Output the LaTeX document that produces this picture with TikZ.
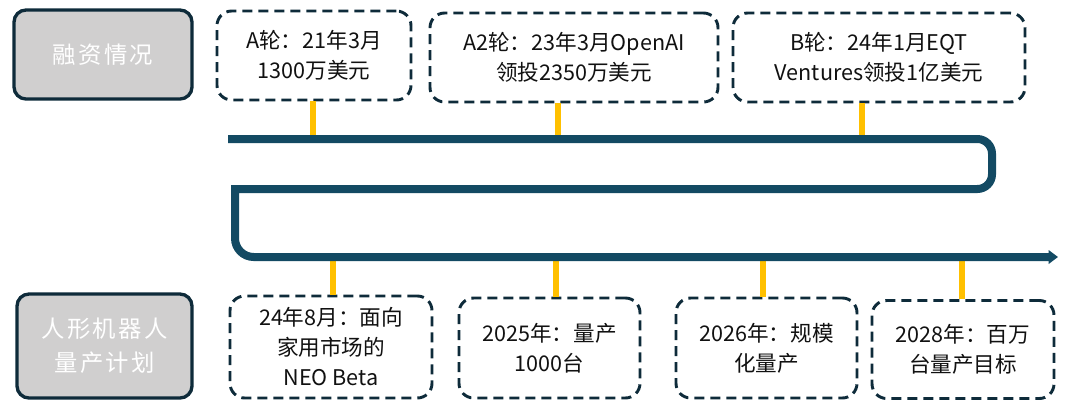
\documentclass[tikz,border=0pt]{standalone}
\usepackage{fontspec}
\setmainfont{Noto Sans CJK SC}
\newfontfamily\graycjk[LetterSpace=10]{Noto Sans CJK SC}
\usetikzlibrary{arrows.meta}
\definecolor{navy}{HTML}{0E2B3A}
\definecolor{tline}{HTML}{134A63}
\definecolor{tickc}{HTML}{FFC000}
\definecolor{grayf}{HTML}{D0CFCF}
\definecolor{txt}{HTML}{111111}
\tikzset{
  graybox/.style={draw=navy, line width=2.5pt, fill=grayf, rounded corners=9pt,
    text=white, align=center, inner sep=0pt,
    font=\graycjk\fontsize{17.5}{25.5}\selectfont},
  dbox/.style={draw=navy, line width=2.2pt, dash pattern=on 7.5pt off 4.5pt,
    rounded corners=11pt, text=txt, align=center, inner sep=0pt,
    font=\fontsize{16.2}{22.5}\selectfont},
  tick/.style={draw=tickc, line width=4.5pt},
  timeline/.style={draw=tline, line width=6pt}
}
\begin{document}
\begin{tikzpicture}[x=0.75pt, y=-0.75pt]
\useasboundingbox (0,0) rectangle (1067,401);
% left labels
\node[graybox, minimum width=133.5pt, minimum height=66.75pt] (g1) at (103,54.5) {融资情况};
\node[graybox, minimum width=131.25pt, minimum height=78pt] (g2) at (104.5,346) {人形机器人\\量产计划};
% top boxes
\node[dbox, minimum width=145.5pt, minimum height=66.75pt] (A) at (314,55.5) {A轮：21年3月\\1300万美元};
\node[dbox, minimum width=216pt, minimum height=66.75pt] (A2) at (574,57.5) {A2轮：23年3月OpenAI\\领投2350万美元};
\node[dbox, minimum width=219pt, minimum height=66.75pt] (B) at (879,57.5) {B轮：24年1月EQT\\Ventures领投1亿美元};
% bottom boxes
\node[dbox, minimum width=151.5pt, minimum height=76.5pt] (N1) at (331,347) {24年8月：面向\\家用市场的\\NEO Beta};
\node[dbox, minimum width=135.75pt, minimum height=75pt] (N2) at (549.5,348) {2025年：量产\\1000台};
\node[dbox, minimum width=135.75pt, minimum height=75pt] (N3) at (766.5,348) {2026年：规模\\化量产};
\node[dbox, minimum width=136.5pt, minimum height=73.5pt] (N4) at (963,349.5) {2028年：百万\\台量产目标};
% timeline anchor points
\coordinate (t1) at (313,139);
\coordinate (t2) at (558,139);
\coordinate (t3) at (862,139);
\coordinate (b1) at (333,257);
\coordinate (b2) at (556,257);
\coordinate (b3) at (763,257);
\coordinate (b4) at (962,257);
\coordinate (ls) at (228,139);
\coordinate (le) at (1058,257);
% ticks
\draw[tick] (t1) -- (t1 |- A.south);
\draw[tick] (t2) -- (t2 |- A2.south);
\draw[tick] (t3) -- (t3 |- B.south);
\draw[tick] (b1) -- (b1 |- N1.north);
\draw[tick] (b2) -- (b2 |- N2.north);
\draw[tick] (b3) -- (b3 |- N3.north);
\draw[tick] (b4) -- (b4 |- N4.north);
% timeline
\draw[timeline, -{Triangle[length=7pt,width=10pt]}]
  (ls) [rounded corners=11pt] -- (992,139) -- (992,189) [sharp corners] -- (235,189)
  [rounded corners=14pt] -- (235,257) -- (le);
\end{tikzpicture}
\end{document}
